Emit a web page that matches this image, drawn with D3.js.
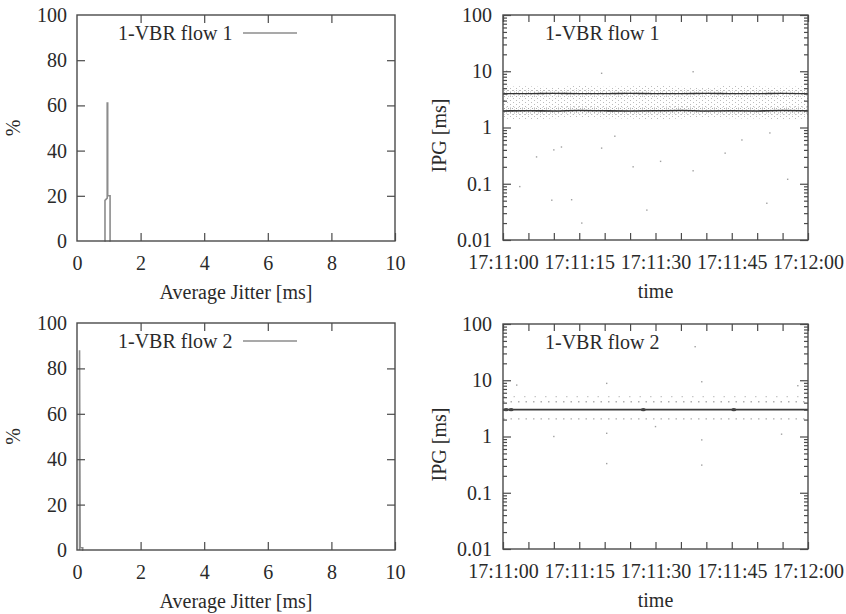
<!DOCTYPE html>
<html><head><meta charset="utf-8">
<script src="https://cdn.jsdelivr.net/npm/d3@7"></script>
<style>
body{margin:0;background:#fff}
svg text{font-family:'Liberation Serif','Times New Roman',serif;fill:#2a2a2a}
</style></head><body>
<svg id="c" width="846" height="614"></svg>
<script>
// ---------- data ----------
const jitterTickValues = [0, 2, 4, 6, 8, 10];
const percentTickValues = [0, 20, 40, 60, 80, 100];
const ipgTickValues = [0.01, 0.1, 1, 10, 100];
const ipgTickLabels = ["0.01", "0.1", "1", "10", "100"];
const timeTickValues = [0, 15, 30, 45, 60];
const timeTickLabels = ["17:11:00", "17:11:15", "17:11:30", "17:11:45", "17:12:00"];
const timeMinorTicks = [0, 5, 10, 15, 20, 25, 30, 35, 40, 45, 50, 55, 60];
const seriesNames = ["1-VBR flow 1", "1-VBR flow 2"];

// jitter histograms (ms, %)
const hist1Jitter = [0.86, 0.88, 0.88, 0.95, 0.95, 0.965, 0.965, 1.04, 1.04, 1.06];
const hist1Pct    = [0,    0,    18,   19,   61,   61,    20,    20,   0,    0];
const hist2Jitter = [0.08, 0.08, 0.10, 0.18, 0.18, 0.2];
const hist2Pct    = [0,    88,   1,    1,    0,    0];

// IPG time series (seconds after 17:11:00, ms)
const sampleTimes     = [0, 5, 10, 15, 20, 25, 30, 35, 40, 45, 50, 55, 60];
const flow1UpperIPG   = [4.0, 4.0, 4.05, 4.0, 4.0, 4.05, 4.0, 4.0, 4.05, 4.0, 4.0, 4.05, 4.0];
const flow1LowerIPG   = [1.97, 1.98, 1.97, 2.0, 1.98, 1.97, 1.98, 2.0, 1.97, 1.98, 1.97, 2.0, 1.98];
const flow1CloudLow   = [1.45, 1.4, 1.45, 1.5, 1.45, 1.45, 1.4, 1.45, 1.5, 1.45, 1.45, 1.4, 1.45];
const flow1CloudHigh  = [5.3, 5.4, 5.2, 5.5, 5.3, 5.4, 5.5, 5.3, 5.2, 5.6, 5.4, 5.3, 5.4];
const flow1HaloHiLow  = [3.55, 3.5, 3.55, 3.5, 3.55, 3.5, 3.5, 3.55, 3.5, 3.5, 3.55, 3.5, 3.55];
const flow1HaloHiHigh = [4.6, 4.7, 4.6, 4.8, 4.6, 4.7, 4.6, 4.7, 4.8, 4.6, 4.7, 4.6, 4.7];
const flow1HaloLoLow  = [1.7, 1.68, 1.7, 1.72, 1.7, 1.68, 1.7, 1.7, 1.72, 1.68, 1.7, 1.7, 1.68];
const flow1HaloLoHigh = [2.35, 2.3, 2.35, 2.4, 2.35, 2.3, 2.35, 2.4, 2.35, 2.3, 2.35, 2.35, 2.4];
const flow1OutlierTime = [0.7, 19.4, 37.4, 19.4, 10.0, 11.5, 43.7, 52.5, 9.6, 13.5, 28.3, 51.9, 37.4, 25.6, 3.3, 6.6, 47.0, 31.0, 22.0, 56.0, 15.5];
const flow1OutlierIPG  = [10.0, 9.2, 9.8, 0.43, 0.4, 0.45, 0.35, 0.8, 0.051, 0.052, 0.034, 0.045, 0.17, 0.2, 0.089, 0.3, 0.6, 0.25, 0.7, 0.12, 0.02];

const flow2MainIPG      = [3.0, 3.0, 3.0, 3.0, 3.0, 3.0, 3.0, 3.0, 3.0, 3.0, 3.0, 3.0, 3.0];
const flow2UpperDotsIPG = [4.15, 4.15, 4.15, 4.15, 4.15, 4.15, 4.15, 4.15, 4.15, 4.15, 4.15, 4.15, 4.15];
const flow2TopDotsIPG   = [5.1, 5.1, 5.1, 5.1, 5.1, 5.1, 5.1, 5.1, 5.1, 5.1, 5.1, 5.1, 5.1];
const flow2LowerDotsIPG = [2.05, 2.05, 2.05, 2.05, 2.05, 2.05, 2.05, 2.05, 2.05, 2.05, 2.05, 2.05, 2.05];
const flow2ClusterTime  = [0.6, 1.6, 27.6, 45.4];
const flow2ClusterIPG   = [3.0, 3.0, 3.0, 3.0];
const flow2OutlierTime  = [20.4, 20.4, 20.4, 39.1, 39.1, 39.1, 37.8, 2.7, 10.0, 54.8, 58.0, 30.0];
const flow2OutlierIPG   = [8.8, 1.14, 0.33, 9.4, 0.87, 0.31, 39.5, 8.2, 1.0, 1.1, 8.0, 1.5];

// ---------- layout ----------
const panels = [
  {kind: "hist", L: 77, R: 395, T: 15, B: 241, jit: hist1Jitter, pct: hist1Pct, name: seriesNames[0]},
  {kind: "ipg1", L: 503, R: 808, T: 15, B: 240, name: seriesNames[0]},
  {kind: "hist", L: 77, R: 395, T: 323, B: 550, jit: hist2Jitter, pct: hist2Pct, name: seriesNames[1]},
  {kind: "ipg2", L: 503, R: 808, T: 324, B: 549, name: seriesNames[1]}
];
const FS = 20;
const frameColor = "#4a4a4a";
const svg = d3.select("#c");

const defs = svg.append("defs");
function stipple(id, w, h, pts, color) {
  const p = defs.append("pattern").attr("id", id).attr("patternUnits", "userSpaceOnUse")
    .attr("width", w).attr("height", h);
  pts.forEach(q => p.append("rect").attr("x", q[0]).attr("y", q[1]).attr("width", 1).attr("height", 1).attr("fill", color));
}
stipple("stLight", 6, 4, [[0, 0], [3, 2]], "#bcbcbc");
stipple("stDense", 4, 3, [[0, 0], [2, 1.5]], "#a0a0a0");

function styleAxis(g) {
  g.select(".domain").remove();
  g.selectAll(".tick line").attr("stroke", frameColor).attr("stroke-width", 1.2);
  g.selectAll(".tick text").attr("font-size", FS).attr("fill", "#2a2a2a")
    .style("font-family", "'Liberation Serif','Times New Roman',serif");
}

panels.forEach(p => {
  const g = svg.append("g");
  let x, y;
  if (p.kind === "hist") {
    x = d3.scaleLinear([0, 10], [p.L, p.R]);
    y = d3.scaleLinear([0, 100], [p.B, p.T]);
    const line = d3.line().x(i => x(p.jit[i])).y(i => y(p.pct[i]));
    g.append("path").attr("d", line(d3.range(p.jit.length)))
      .attr("fill", "none").attr("stroke", "#8c8c8c").attr("stroke-width", 1.6);

    g.append("g").attr("transform", `translate(0,${p.B})`)
      .call(d3.axisBottom(x).tickValues(jitterTickValues).tickSize(-8).tickPadding(15).tickFormat(d3.format("d"))).call(styleAxis);
    g.append("g").attr("transform", `translate(0,${p.T})`)
      .call(d3.axisTop(x).tickValues(jitterTickValues.slice(1, -1)).tickSize(-8).tickFormat("")).call(styleAxis);
    g.append("g").attr("transform", `translate(${p.L},0)`)
      .call(d3.axisLeft(y).tickValues(percentTickValues).tickSize(-8).tickPadding(10).tickFormat(d3.format("d"))).call(styleAxis);
    g.selectAll(".tick").filter(d => d === 0 || d === 100).select("line").remove();
    g.append("g").attr("transform", `translate(${p.R},0)`)
      .call(d3.axisRight(y).tickValues(percentTickValues.slice(1, -1)).tickSize(-8).tickFormat("")).call(styleAxis);

    g.append("text").attr("x", (p.L + p.R) / 2).attr("y", p.B + 58).attr("text-anchor", "middle")
      .attr("font-size", FS).text("Average Jitter [ms]");
    g.append("text").attr("transform", `translate(20,${(p.T + p.B) / 2}) rotate(-90)`)
      .attr("text-anchor", "middle").attr("font-size", FS).text("%");

    g.append("text").attr("x", 118).attr("y", p.T + 25).attr("font-size", FS).text(p.name);
    g.append("line").attr("x1", 243).attr("x2", 297).attr("y1", p.T + 18).attr("y2", p.T + 18)
      .attr("stroke", "#8c8c8c").attr("stroke-width", 1.4);
  } else {
    x = d3.scaleLinear([0, 60], [p.L, p.R]);
    y = d3.scaleLog([0.01, 100], [p.B, p.T]);
    const idx = d3.range(sampleTimes.length);
    const band = (lo, hi) => d3.area().x(i => x(sampleTimes[i])).y0(i => y(lo[i])).y1(i => y(hi[i])).curve(d3.curveMonotoneX)(idx);
    const ln = vals => d3.line().x(i => x(sampleTimes[i])).y(i => y(vals[i])).curve(d3.curveMonotoneX)(idx);

    if (p.kind === "ipg1") {
      g.append("path").attr("d", band(flow1CloudLow, flow1CloudHigh)).attr("fill", "url(#stLight)");
      g.append("path").attr("d", band(flow1HaloHiLow, flow1HaloHiHigh)).attr("fill", "url(#stDense)").attr("opacity", 0.75);
      g.append("path").attr("d", band(flow1HaloLoLow, flow1HaloLoHigh)).attr("fill", "url(#stDense)").attr("opacity", 0.85);
      g.append("path").attr("d", ln(flow1UpperIPG)).attr("fill", "none").attr("stroke", "#333").attr("stroke-width", 1.4);
      g.append("path").attr("d", ln(flow1LowerIPG)).attr("fill", "none").attr("stroke", "#333").attr("stroke-width", 1.6);
      g.selectAll(".o").data(d3.range(flow1OutlierTime.length)).join("rect")
        .attr("x", i => x(flow1OutlierTime[i]) - 0.7).attr("y", i => y(flow1OutlierIPG[i]) - 0.7)
        .attr("width", 1.4).attr("height", 1.4).attr("fill", "#a0a0a0");
    } else {
      g.append("path").attr("d", ln(flow2TopDotsIPG)).attr("fill", "none").attr("stroke", "#c8c8c8").attr("stroke-width", 1.2).attr("stroke-dasharray", "1.5,9");
      g.append("path").attr("d", ln(flow2UpperDotsIPG)).attr("fill", "none").attr("stroke", "#b0b0b0").attr("stroke-width", 1.3).attr("stroke-dasharray", "1.5,6");
      g.append("path").attr("d", ln(flow2LowerDotsIPG)).attr("fill", "none").attr("stroke", "#b0b0b0").attr("stroke-width", 1.3).attr("stroke-dasharray", "1.5,6");
      g.append("path").attr("d", ln(flow2MainIPG)).attr("fill", "none").attr("stroke", "#3a3a3a").attr("stroke-width", 1.8);
      g.selectAll(".cl").data(d3.range(flow2ClusterTime.length)).join("ellipse")
        .attr("cx", i => x(flow2ClusterTime[i])).attr("cy", i => y(flow2ClusterIPG[i]))
        .attr("rx", 2.5).attr("ry", 1.6).attr("fill", "#444");
      g.selectAll(".o").data(d3.range(flow2OutlierTime.length)).join("rect")
        .attr("x", i => x(flow2OutlierTime[i]) - 0.7).attr("y", i => y(flow2OutlierIPG[i]) - 0.7)
        .attr("width", 1.4).attr("height", 1.4).attr("fill", "#a0a0a0");
    }

    const minor = y.ticks().filter(v => !ipgTickValues.some(m => Math.abs(m - v) < 1e-9));
    g.append("g").attr("transform", `translate(${p.L},0)`)
      .call(d3.axisLeft(y).tickValues(ipgTickValues).tickSize(-8).tickPadding(11).tickFormat((d, i) => ipgTickLabels[i])).call(styleAxis);
    g.append("g").attr("transform", `translate(${p.L},0)`)
      .call(d3.axisLeft(y).tickValues(minor).tickSize(-4).tickFormat("")).call(styleAxis);
    g.append("g").attr("transform", `translate(${p.R},0)`)
      .call(d3.axisRight(y).tickValues(ipgTickValues).tickSize(-8).tickFormat("")).call(styleAxis);
    g.append("g").attr("transform", `translate(${p.R},0)`)
      .call(d3.axisRight(y).tickValues(minor).tickSize(-4).tickFormat("")).call(styleAxis);
    g.append("g").attr("transform", `translate(0,${p.B})`)
      .call(d3.axisBottom(x).tickValues(timeMinorTicks).tickSize(-7).tickFormat("")).call(styleAxis);
    g.append("g").attr("transform", `translate(0,${p.B})`)
      .call(d3.axisBottom(x).tickValues(timeTickValues).tickSize(0).tickPadding(15).tickFormat((d, i) => timeTickLabels[i])).call(styleAxis);
    g.append("g").attr("transform", `translate(0,${p.T})`)
      .call(d3.axisTop(x).tickValues(timeMinorTicks).tickSize(-7).tickFormat("")).call(styleAxis);

    g.append("text").attr("x", (p.L + p.R) / 2).attr("y", p.B + 58).attr("text-anchor", "middle")
      .attr("font-size", FS).text("time");
    g.append("text").attr("transform", `translate(446,${(p.T + p.B) / 2 + 8}) rotate(-90)`)
      .attr("text-anchor", "middle").attr("font-size", FS).text("IPG [ms]");
    g.append("text").attr("x", 545).attr("y", p.T + 25).attr("font-size", FS).text(p.name);
  }
  g.append("rect").attr("x", p.L).attr("y", p.T).attr("width", p.R - p.L).attr("height", p.B - p.T)
    .attr("fill", "none").attr("stroke", frameColor).attr("stroke-width", 1.4);
});
</script>
</body></html>
